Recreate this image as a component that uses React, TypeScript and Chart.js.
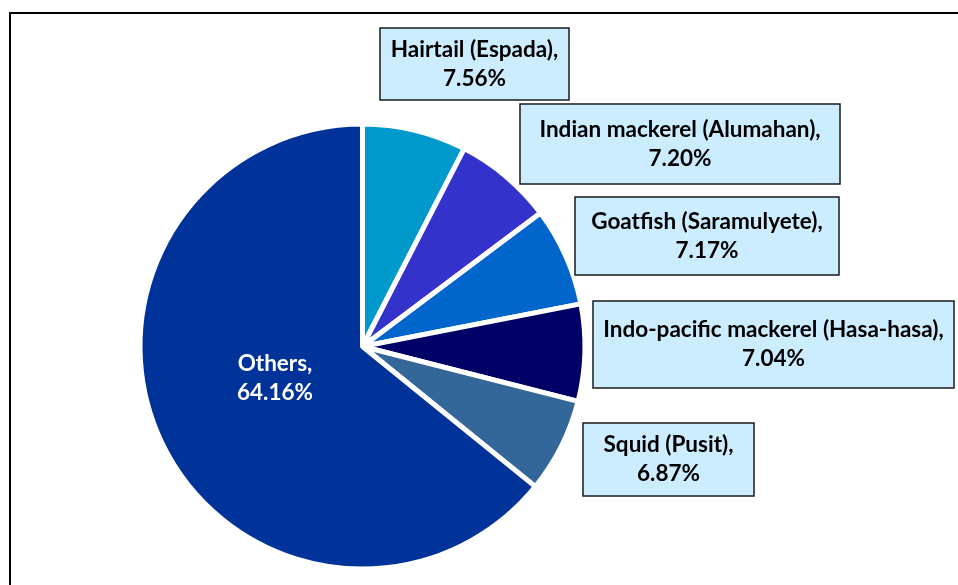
import React, { useEffect, useRef } from "react";
import { Chart, registerables } from "chart.js";

Chart.register(...registerables);

const categories = [
  "Hairtail (Espada)",
  "Indian mackerel (Alumahan)",
  "Goatfish (Saramulyete)",
  "Indo-pacific mackerel (Hasa-hasa)",
  "Squid (Pusit)",
  "Others",
];
const shares = [7.56, 7.2, 7.17, 7.04, 6.87, 64.16];
const valueLabels = ["7.56%", "7.20%", "7.17%", "7.04%", "6.87%", "64.16%"];
const sliceColors = ["#0099CC", "#3333CC", "#0066CC", "#000066", "#336699", "#003399"];

// label placement relative to the pie centre (layout only)
const labelLayout = [
  { dx: 112, dy: -282.5, w: 189, h: 72, boxed: true },
  { dx: 317.5, dy: -202.5, w: 320, h: 80, boxed: true },
  { dx: 344.5, dy: -110.5, w: 264, h: 78, boxed: true },
  { dx: 411, dy: -2, w: 361, h: 87, boxed: true },
  { dx: 306, dy: 113, w: 171, h: 73, boxed: true },
  { dx: -87.5, dy: 31.5, w: 0, h: 0, boxed: false },
];

const FONT = "bold 22.5px Lato";
const LINE = 29;

const framePlugin = {
  id: "frame",
  beforeDraw(chart: any) {
    const ctx = chart.ctx;
    ctx.save();
    ctx.fillStyle = "#ffffff";
    ctx.fillRect(0, 0, chart.width, chart.height);
    ctx.strokeStyle = "#000000";
    ctx.lineWidth = 2;
    ctx.strokeRect(10, 13, chart.width + 20, chart.height + 20);
    ctx.restore();
  },
};

const labelPlugin = {
  id: "sliceLabels",
  afterDatasetsDraw(chart: any) {
    const ctx = chart.ctx;
    const meta = chart.getDatasetMeta(0);
    ctx.save();
    meta.data.forEach((arc: any, i: number) => {
      const lay = labelLayout[i];
      const cx = arc.x + lay.dx;
      const cy = arc.y + lay.dy;
      if (lay.boxed) {
        ctx.fillStyle = "#CCECFF";
        ctx.fillRect(cx - lay.w / 2, cy - lay.h / 2, lay.w, lay.h);
        ctx.strokeStyle = "#1a1a1a";
        ctx.lineWidth = 1.5;
        ctx.strokeRect(cx - lay.w / 2, cy - lay.h / 2, lay.w, lay.h);
      }
      ctx.font = FONT;
      ctx.textAlign = "center";
      ctx.textBaseline = "middle";
      ctx.fillStyle = lay.boxed ? "#000000" : "#ffffff";
      const lines = [categories[i] + ",", valueLabels[i]];
      ctx.fillText(lines[0], cx, cy - LINE / 2);
      ctx.fillText(lines[1], cx, cy + LINE / 2);
    });
    ctx.restore();
  },
};

export default function App() {
  const ref = useRef<HTMLCanvasElement>(null);
  useEffect(() => {
    if (!ref.current) return;
    const chart = new Chart(ref.current, {
      type: "pie",
      data: {
        labels: categories,
        datasets: [
          {
            data: shares,
            backgroundColor: sliceColors,
            borderColor: "#ffffff",
            borderWidth: 5,
          },
        ],
      },
      options: {
        responsive: false,
        animation: false,
        layout: { padding: { top: 121.5, bottom: 13.5, left: 137.5, right: 370.5 } },
        plugins: {
          legend: { display: false },
          tooltip: { enabled: false },
          title: { display: false },
        },
      },
      plugins: [framePlugin, labelPlugin],
    });
    return () => chart.destroy();
  }, []);
  return (
    <div style={{ position: "fixed", left: 0, top: 0, width: 958, height: 585, background: "#fff" }}>
      <canvas ref={ref} width={958} height={585} style={{ display: "block" }} />
    </div>
  );
}
